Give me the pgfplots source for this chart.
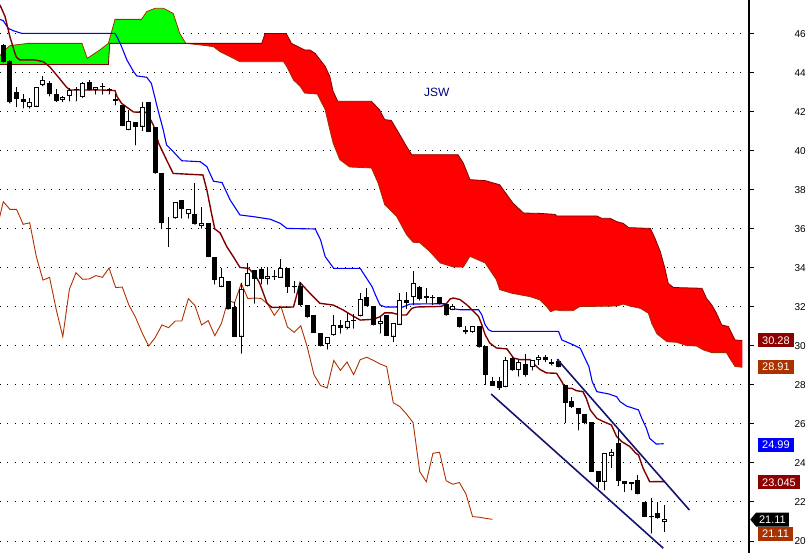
\documentclass[border=0pt]{standalone}
\usepackage{fontspec}
\setmainfont{Liberation Sans}
\usepackage{pgfplots}
\usepackage{pgfplotstable}
\pgfplotsset{compat=1.18}
\usepgfplotslibrary{fillbetween}
\usetikzlibrary{shapes.symbols}
\definecolor{tenkan}{RGB}{128,0,0}
\definecolor{kijun}{RGB}{0,0,255}
\definecolor{chikou}{RGB}{176,48,0}
\definecolor{spanA}{RGB}{165,45,0}
\definecolor{spanB}{RGB}{128,0,0}
\definecolor{navyline}{RGB}{20,20,110}
\definecolor{jsw}{RGB}{0,0,128}

\pgfplotstableread{
i o h l c
0 45.44 45.50 44.55 44.58
1 44.62 44.65 42.45 42.50
2 43.01 43.26 42.27 42.67
3 42.67 42.91 42.19 42.50
4 42.24 42.70 42.19 42.50
5 42.27 43.26 42.27 43.26
6 43.38 43.85 43.33 43.64
7 43.47 43.59 42.82 42.91
8 42.91 43.16 42.53 42.56
9 42.62 42.82 42.53 42.79
10 42.82 43.21 42.56 43.13
11 43.12 43.26 42.56 43.15
12 42.75 43.56 42.75 43.47
13 43.52 43.64 43.13 43.13
14 43.13 43.26 42.91 43.26
15 43.33 43.47 42.91 43.26
16 43.15 43.21 42.91 43.12
17 42.58 42.91 42.36 42.67
18 42.36 42.36 41.30 41.30
19 41.08 42.10 41.08 41.56
20 41.47 41.47 40.31 41.25
21 41.25 42.53 41.04 42.24
22 42.50 42.50 40.99 40.99
23 41.25 41.25 38.86 38.86
24 38.86 38.86 36.03 36.29
25 36.01 36.63 35.09 35.98
26 36.55 37.40 36.55 37.40
27 37.49 37.49 36.55 37.01
28 36.75 37.01 36.55 37.01
29 36.75 38.38 36.24 36.24
30 36.15 37.11 36.03 36.32
31 36.29 36.29 34.58 34.58
32 34.58 34.58 33.16 33.38
33 33.04 33.98 33.04 33.52
34 33.33 33.33 31.88 31.88
35 31.98 32.27 30.48 30.48
36 30.48 33.21 29.62 32.91
37 33.07 34.24 33.07 33.76
38 33.90 33.90 32.19 33.42
39 33.93 34.07 33.16 33.44
40 33.44 34.05 33.16 33.61
41 33.59 33.90 33.40 33.52
42 33.50 34.46 33.50 34.00
43 33.98 33.98 32.74 33.00
44 33.00 33.35 32.72 33.02
45 33.07 33.30 32.05 32.10
46 32.10 32.10 31.47 31.47
47 31.59 31.59 30.68 30.68
48 30.65 30.65 30.00 30.00
49 30.09 30.44 29.83 30.44
50 30.55 31.59 30.55 31.08
51 31.08 31.33 30.65 30.94
52 30.94 31.67 30.85 31.28
53 31.30 31.64 30.90 31.28
54 31.54 32.74 31.54 32.43
55 32.50 32.97 32.07 32.07
56 32.07 32.07 31.08 31.08
57 31.11 31.47 30.65 31.30
58 31.59 31.59 30.53 30.53
59 30.48 31.16 30.22 31.16
60 31.09 32.74 31.09 32.34
61 32.34 32.76 31.91 32.22
62 32.50 33.86 32.10 33.21
63 33.00 33.07 32.34 32.43
64 32.58 32.97 32.20 32.46
65 32.46 32.63 32.12 32.44
66 32.50 32.50 32.15 32.15
67 32.15 32.15 31.57 31.57
68 31.86 32.15 31.86 32.03
69 31.49 31.49 30.97 30.97
70 30.84 31.00 30.63 30.70
71 30.70 31.04 30.70 31.04
72 31.04 31.04 29.93 29.93
73 30.02 30.02 28.02 28.53
74 28.22 28.40 27.97 27.97
75 28.19 28.41 27.76 27.85
76 27.90 29.44 27.90 29.26
77 29.38 29.44 28.75 28.75
78 28.75 29.26 28.44 29.18
79 29.09 29.60 28.44 28.53
80 28.92 29.30 28.75 29.30
81 29.26 29.56 29.04 29.42
82 29.42 29.56 29.20 29.26
83 29.20 29.32 29.00 29.08
84 29.25 29.32 28.92 28.94
85 28.00 28.00 26.07 27.09
86 27.18 27.40 26.84 26.89
87 26.80 26.80 25.69 26.51
88 26.51 26.51 26.00 26.07
89 26.09 26.09 23.56 23.56
90 23.59 23.59 22.70 23.04
91 23.04 24.50 22.62 24.50
92 24.38 24.72 23.76 24.55
93 25.01 25.78 22.84 23.09
94 23.08 23.08 22.53 22.91
95 22.92 23.00 22.61 23.00
96 23.13 23.38 22.41 22.41
97 21.98 21.98 21.25 21.25
98 21.25 22.19 20.39 21.22
99 21.42 22.02 21.16 21.16
100 20.96 21.85 20.48 21.11
}\candles

\pgfplotstableread{
x y
-0.5 44.90
0.3 45.20
1.0 45.40
1.8 45.44
3.8 45.52
11.9 45.52
12.7 44.75
14.6 45.18
15.9 45.52
16.9 46.75
20.9 46.75
21.7 47.15
23.0 47.32
24.2 47.32
25.7 47.06
26.7 46.03
27.6 45.52
29.8 45.44
31.8 45.35
32.8 45.09
34.3 44.84
35.8 44.58
42.4 44.58
42.9 44.32
43.9 43.64
44.9 43.32
45.6 42.97
47.5 42.92
48.7 42.12
49.4 41.09
49.9 40.41
50.9 39.56
52.4 39.18
55.7 39.13
56.7 38.36
57.7 37.25
59.5 36.65
61.0 35.71
62.0 35.32
63.0 35.30
64.5 34.85
66.1 34.26
68.1 34.05
69.6 34.05
70.6 34.60
72.9 34.26
74.6 33.40
75.1 32.89
77.0 32.70
79.7 32.53
81.2 32.36
82.2 32.02
82.8 31.76
83.5 31.85
84.5 31.81
86.2 31.81
87.2 32.02
92.8 32.05
93.8 32.15
94.8 32.05
96.4 31.93
97.6 31.68
98.1 31.16
98.9 30.62
100.4 30.22
101.9 30.19
103.4 30.02
104.9 30.00
105.9 29.80
107.2 29.66
109.4 29.66
109.9 29.37
110.7 28.95
111.8 28.91
}\spanAtab

\pgfplotstableread{
x y
-0.5 44.44
15.9 44.44
16.1 45.52
39.1 45.52
39.6 46.03
42.8 46.03
43.6 45.52
45.6 45.18
46.4 45.18
47.2 45.00
48.7 44.34
49.4 43.83
49.9 43.06
50.6 42.55
55.7 42.55
56.9 42.12
57.7 41.61
58.7 41.57
59.7 41.00
61.0 40.24
61.8 39.81
68.8 39.81
69.6 39.38
70.6 38.53
72.9 38.48
75.1 38.27
77.1 37.33
78.7 36.82
81.2 36.80
83.5 36.75
83.7 36.67
89.8 36.67
90.5 36.55
91.8 36.55
92.8 36.38
93.8 36.29
94.6 36.07
97.9 36.03
98.6 35.52
99.4 34.84
100.1 33.98
100.6 33.21
101.4 33.00
105.7 32.96
106.4 32.44
107.2 32.10
107.9 31.68
108.7 31.08
109.7 31.00
110.2 30.65
110.7 30.31
111.8 30.28
}\spanBtab

\begin{document}
\begin{tikzpicture}
\begin{axis}[
  at={(0,0)}, anchor=south west,
  width=749pt, height=553pt, scale only axis,
  xmin=-0.5, xmax=112.82, ymin=19.385, ymax=47.744,
  axis x line=none,
  axis y line=right,
  axis line style={black, line width=1.2pt, -},
  ytick={20,22,...,46},
  tick align=outside, major tick length=5pt,
  tick style={black, line width=1pt},
  ymajorgrids,
  grid style={black, line width=1pt, dash pattern=on 1pt off 6.33pt},
  /pgf/number format/assume math mode=true,
  yticklabel style={font=\fontsize{10}{12}\selectfont, anchor=east, inner sep=0pt, xshift=52pt},
  clip=false,
  candle/.style={only marks, mark=*, mark size=0.1pt, mark options={draw=none, fill=none}},
]
% cloud
\addplot[draw=none, name path=A, forget plot] table[x=x,y=y] {\spanAtab};
\addplot[draw=none, name path=B, forget plot] table[x=x,y=y] {\spanBtab};
\addplot[fill={rgb,255:red,0;green,255;blue,0}, draw=none] fill between[of=A and B, soft clip={domain=-1:27.6}];
\addplot[fill={rgb,255:red,255;green,0;blue,0}, draw=none] fill between[of=A and B, soft clip={domain=27.6:113}];
\addplot[spanA, line width=0.8pt] table[x=x,y=y] {\spanAtab};
\addplot[spanB, line width=0.8pt] table[x=x,y=y] {\spanBtab};
% chikou span
\addplot[chikou, line width=0.9pt] coordinates {
(-1,35.98) (0,37.40) (1,37.01) (2,37.01) (3,36.24) (4,36.32) (5,34.58) (6,33.38)
(7,33.52) (8,31.88) (9,30.48) (10,32.91) (11,33.76) (12,33.42) (13,33.44) (14,33.61)
(15,33.52) (16,34.00) (17,33.00) (18,33.02) (19,32.10) (20,31.47) (21,30.68) (22,30.00)
(23,30.44) (24,31.08) (25,30.94) (26,31.28) (27,31.28) (28,32.43) (29,32.07) (30,31.08)
(31,31.30) (32,30.53) (33,31.16) (34,32.34) (35,32.22) (36,33.21) (37,32.43) (38,32.46)
(39,32.44) (40,32.15) (41,31.57) (42,32.03) (43,30.97) (44,30.70) (45,31.04) (46,29.93)
(47,28.53) (48,27.97) (49,27.85) (50,29.26) (51,28.75) (52,29.18) (53,28.53) (54,29.30)
(55,29.42) (56,29.26) (57,29.08) (58,28.94) (59,27.09) (60,26.89) (61,26.51) (62,26.07)
(63,23.56) (64,23.04) (65,24.50) (66,24.55) (67,23.09) (68,22.91) (69,23.00) (70,22.41)
(71,21.25) (72,21.22) (73,21.16) (74,21.11)
};
% kijun
\addplot[kijun, line width=1.1pt] coordinates {
(-0.5,46.75) (0.0,46.68) (0.76,46.29) (1.5,46.17) (2.8,46.03) (16.9,46.03) (17.2,45.86)
(17.9,45.35) (18.7,44.67) (19.7,44.07) (20.2,43.85) (21.7,43.78) (22.4,43.47) (22.9,42.79)
(23.4,42.10) (24.2,41.08) (24.7,40.31) (25.7,39.97) (27.0,39.50) (29.8,39.45) (30.8,39.20)
(31.8,38.45) (33.1,38.38) (34.3,37.50) (35.8,36.72) (37.9,36.63) (40.4,36.50) (41.9,36.29)
(42.9,36.03) (47.2,36.00) (48.0,35.44) (48.7,34.58) (50.0,33.98) (54.0,33.98) (54.8,33.56)
(55.8,33.04) (56.3,32.62) (57.0,32.10) (57.8,32.00) (60.5,32.00) (61.5,32.15) (66.8,32.17)
(67.3,31.95) (69.1,31.86) (71.9,31.86) (72.4,31.60) (72.9,31.09) (73.4,30.84) (73.9,30.75)
(84.0,30.75) (84.2,30.58) (84.5,30.31) (86.3,30.05) (87.3,29.88) (88.0,29.37) (88.6,28.94)
(89.1,28.17) (89.8,27.66) (91.6,27.54) (92.8,27.40) (93.3,27.15) (94.3,26.92) (96.1,26.72)
(96.6,26.29) (97.3,25.78) (97.8,25.26) (98.8,24.97) (99.9,24.99)
};
% tenkan
\addplot[tenkan, line width=1.4pt] coordinates {
(-0.5,47.49) (0.26,46.90) (1.0,45.86) (1.77,45.00) (2.0,44.80) (2.5,44.67) (4.8,44.67)
(6.05,44.58) (7.07,44.30) (8.3,43.80) (9.6,43.26) (10.1,43.13) (14.6,43.13) (16.9,43.10)
(17.2,42.80) (17.9,42.44) (19.7,42.00) (21.7,41.98) (22.7,41.33) (23.5,40.40) (24.7,39.54)
(25.7,38.85) (30.2,38.77) (30.8,38.00) (31.5,36.80) (32.0,36.00) (32.8,35.80) (33.8,35.10)
(34.8,34.58) (35.8,34.03) (37.1,33.98) (38.1,33.64) (38.8,33.21) (39.9,32.19) (40.6,31.98)
(43.9,32.00) (44.9,33.25) (46.4,32.70) (47.9,32.19) (49.9,32.10) (51.4,31.85) (52.9,31.54)
(54.0,31.33) (56.0,31.37) (57.0,31.50) (57.7,31.70) (58.8,31.70) (60.0,31.59) (61.0,31.59)
(61.8,31.93) (62.5,32.00) (66.3,32.03) (67.1,32.20) (67.6,32.41) (68.1,32.46) (69.1,32.38)
(70.1,32.12) (70.9,31.86) (71.9,31.52) (72.4,31.09) (72.9,30.58) (73.6,30.15) (74.6,29.90)
(76.2,29.85) (77.2,29.38) (78.2,29.30) (79.7,29.30) (80.4,29.04) (81.2,28.79) (82.2,28.62)
(83.7,28.60) (84.5,28.17) (85.0,27.83) (86.0,27.83) (86.7,27.71) (87.7,27.66) (88.2,27.32)
(88.8,26.72) (89.8,26.29) (90.8,26.12) (92.0,25.95) (92.8,25.35) (93.6,25.09) (94.8,24.84)
(95.7,24.50) (96.1,24.41) (96.8,23.73) (97.8,23.04) (100.0,23.045)
};
% candles: wicks
\addplot[candle,
  error bars/.cd, y dir=plus, y explicit, error mark=none,
  error bar style={line width=1pt, draw=black}]
  table[x=i, y=l, y error plus expr={\thisrow{h}-\thisrow{l}}] {\candles};
% candles: bodies
\addplot[candle,
  error bars/.cd, y dir=plus, y explicit, error mark=none,
  error bar style={line width=5pt, draw=black}]
  table[x=i, y expr={min(\thisrow{o},\thisrow{c})},
        y error plus expr={max(abs(\thisrow{c}-\thisrow{o}),0.055)}] {\candles};
\addplot[candle,
  restrict expr to domain={\thisrow{c}-\thisrow{o}}{0.12:100},
  error bars/.cd, y dir=plus, y explicit, error mark=none,
  error bar style={line width=3pt, draw=white}]
  table[x=i, y expr={\thisrow{o}+0.0513},
        y error plus expr={\thisrow{c}-\thisrow{o}-0.1026}] {\candles};
% channel lines
\addplot[navyline, line width=1.6pt] coordinates {(83.8,29.32) (103.8,21.59)};
\addplot[navyline, line width=1.6pt] coordinates {(73.8,27.54) (99.85,19.63)};
% title
\node[jsw, font=\fontsize{12}{14}\selectfont] at (axis cs:65.6,42.99) {JSW};
% value labels
\tikzset{vlab/.style={anchor=west, text=white, inner xsep=4pt, inner ysep=0pt, minimum height=14pt, font=\fontsize{11}{13}\selectfont}}
\node[vlab, fill={rgb,255:red,140;green,0;blue,0}] at (axis cs:114.18,30.29) {30.28};
\node[vlab, fill={rgb,255:red,168;green,50;blue,0}] at (axis cs:114.18,28.92) {28.91};
\node[vlab, fill={rgb,255:red,0;green,0;blue,255}] at (axis cs:114.18,24.94) {24.99};
\node[vlab, fill={rgb,255:red,140;green,0;blue,0}] at (axis cs:114.18,23.01) {23.045};
\node[vlab, fill=black, shape=signal, signal to=west, signal pointer angle=100, inner xsep=3pt] at (axis cs:112.97,21.10) {21.11};
\node[vlab, fill={rgb,255:red,168;green,50;blue,0}] at (axis cs:114.18,20.36) {21.11};
\end{axis}
\pgfresetboundingbox
\useasboundingbox (0,0) rectangle (807pt,553pt);
\end{tikzpicture}
\end{document}
